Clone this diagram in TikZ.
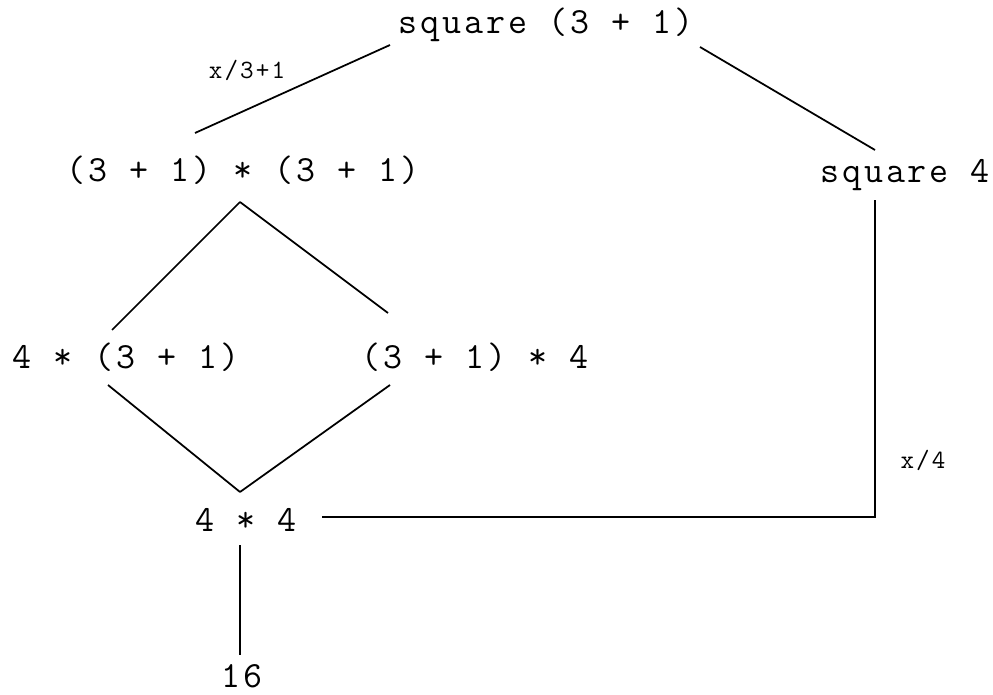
\documentclass[tikz,border=0pt]{standalone}
\usepackage{fontspec}
\usepackage{tikz}
\usetikzlibrary{positioning, calc}
\newfontfamily\exprfont{Latin Modern Mono}[LetterSpace=8]
\newfontfamily\lblfont{Latin Modern Mono}[LetterSpace=8]

\begin{document}
\begin{tikzpicture}[
  x=0.02cm, y=-0.02cm,
  expr/.style={inner sep=0pt, font=\exprfont\fontsize{21}{24}\selectfont},
  lbl/.style={inner sep=0pt, font=\lblfont\fontsize{15}{17}\selectfont},
  link/.style={line width=1pt, draw=black}
]
  \useasboundingbox (0,0) rectangle (993,695);

  % terms
  \node[expr] (sqtop) at (546,25) {square (3 + 1)};
  \node[expr] (prod) at (243,170) {(3 + 1) * (3 + 1)};
  \node[expr] (sqfour) at (905,175) {square 4};
  \node[expr] (lhs) at (126,357) {4 * (3 + 1)};
  \node[expr] (rhs) at (475,357) {(3 + 1) * 4};
  \node[expr] (fourfour) at (246,520) {4 * 4};
  \node[expr] (result) at (242,676) {16};

  % step labels
  \node[lbl] (lblinner) at (247,70) {x/3+1};
  \node[lbl] (lblouter) at (923,460) {x/4};

  \draw[link] ([shift={(-48,-37)}]prod.center) -- ([shift={(-156,20)}]sqtop.center);
  \draw[link] ([shift={(154,22)}]sqtop.center) -- ([shift={(-30,-25)}]sqfour.center);
  \draw[link] ([shift={(-3,32)}]prod.center) -- ([shift={(-14,-27)}]lhs.center);
  \draw[link] ([shift={(-3,32)}]prod.center) -- ([shift={(-87,-44)}]rhs.center);
  \draw[link] ([shift={(-18,28)}]lhs.center) -- ([shift={(-6,-28)}]fourfour.center);
  \draw[link] ([shift={(-85,28)}]rhs.center) -- ([shift={(-6,-28)}]fourfour.center);
  \draw[link] ([shift={(-6,25)}]fourfour.center) -- ([shift={(-2,-21)}]result.center);
  \draw[link] ([shift={(76,-3)}]fourfour.center) -| ([shift={(-30,25)}]sqfour.center);

\end{tikzpicture}
\end{document}
